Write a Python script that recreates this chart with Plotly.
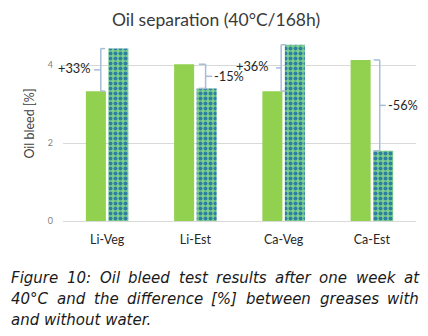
import plotly.graph_objects as go

# Oil bleed after 168 h at 40 °C, without and with water
categories = ["Li-Veg", "Li-Est", "Ca-Veg", "Ca-Est"]
bleed_dry = [3.33, 4.02, 3.33, 4.13]
bleed_water = [4.42, 3.40, 4.52, 1.80]
y_ticks = [0, 2, 4]

title_text = "Oil separation (40°C/168h)"
y_title = "Oil bleed [%]"
caption_lines = [
    ["Figure", "10:", "Oil", "bleed", "test", "results", "after", "one", "week", "at"],
    ["40°C", "and", "the", "difference", "[%]", "between", "greases", "with"],
    ["and without water."],
]

# layout helpers ---------------------------------------------------------
W, H = 428, 336
ML, MR, MT, MB = 63, 12, 26, 115
PW, PH = W - ML - MR, H - MT - MB


def px_x(px):
    return (px - ML) / PW


def px_y(py):
    return (H - MB - py) / PH


GREEN = "#92D050"
CHECK_FG = "#2E80A2"
CHECK_BG = "#7DD08C"
BRACKET = "#A7BCD6"
FONT = "Lato"

fig = go.Figure()
fig.add_trace(go.Bar(
    x=categories, y=bleed_dry, marker=dict(color=GREEN, line=dict(width=0)),
    name="without water", hoverinfo="skip",
))
fig.add_trace(go.Bar(
    x=categories, y=bleed_water,
    marker=dict(color=CHECK_BG, line=dict(width=0),
                pattern=dict(shape=".", fgcolor=CHECK_FG, bgcolor=CHECK_BG,
                             size=5, solidity=0.5, fillmode="replace")),
    name="with water", hoverinfo="skip",
))

# bracket geometry per group: (vertical x, end x, tick x, label x, label side, label shift px)
bracket_geom = [
    (-0.072, -0.023, -0.148, -0.175, "right", 2),
    (0.116, 0.040, 0.190, 0.195, "left", 0),
    (-0.028, 0.017, -0.085, -0.150, "right", 2),
    (0.089, 0.020, 0.157, 0.170, "left", 0),
]

shapes = []
annotations = []
line_style = dict(color=BRACKET, width=1.5)
for i, (dry, wet) in enumerate(zip(bleed_dry, bleed_water)):
    xv, xe, xt, xl, side, shift = bracket_geom[i]
    lo, hi = min(dry, wet), max(dry, wet)
    mid = (lo + hi) / 2
    for seg in [(xv, lo, xv, hi), (xv, hi, xe, hi), (xv, lo, xe, lo), (xv, mid, xt, mid)]:
        shapes.append(dict(type="line", xref="x", yref="y",
                           x0=i + seg[0], y0=seg[1], x1=i + seg[2], y1=seg[3],
                           line=line_style))
    change = round((wet / dry - 1) * 100)
    annotations.append(dict(
        x=i + xl, y=mid, xref="x", yref="y", text=f"{change:+d}%",
        showarrow=False, xanchor=side, yanchor="middle", yshift=shift, borderpad=0,
        font=dict(family=FONT, size=12.8, color="#262626"),
    ))

# justified caption: word start positions in pixels for each line
caption_word_px = [
    [10, 65.8, 98.5, 127.2, 177.5, 214.9, 274.1, 318.4, 354.9, 402.9],
    [10, 55.7, 92.6, 125.9, 210.4, 245.0, 318.5, 386.2],
    [10],
]
caption_line_py = [278, 299, 320]
for words, xs, py in zip(caption_lines, caption_word_px, caption_line_py):
    for w, x in zip(words, xs):
        annotations.append(dict(
            x=px_x(x), y=px_y(py), xref="paper", yref="paper", text=f"<i>{w}</i>",
            showarrow=False, xanchor="left", yanchor="middle", borderpad=0,
            font=dict(family="DejaVu Sans", size=15, color="#1a1a1a"),
        ))

fig.update_layout(
    width=W, height=H,
    margin=dict(l=ML, r=MR, t=MT, b=MB, pad=0),
    paper_bgcolor="white", plot_bgcolor="white",
    barmode="group", bargap=0.49, bargroupgap=0.11,
    showlegend=False,
    title=dict(text=title_text, x=216 / W, xref="container", xanchor="center",
               y=1 - 20 / H, yref="container", yanchor="middle",
               font=dict(family=FONT, size=17.5, color="#3A3A3A")),
    xaxis=dict(range=[-0.5, 3.5], showgrid=False, showline=False, ticks="",
               ticklabelstandoff=9, automargin=False,
               tickfont=dict(family=FONT, size=12.5, color="#262626")),
    yaxis=dict(range=[0, 5], tickvals=y_ticks, showgrid=True, gridcolor="#D9D9D9",
               gridwidth=1, zeroline=True, zerolinecolor="#D9D9D9", zerolinewidth=1,
               showline=False, ticks="", ticklabelstandoff=9, automargin=False,
               tickfont=dict(family=FONT, size=9, color="#7F7F7F"),
               title=dict(text=y_title, standoff=10,
                          font=dict(family=FONT, size=12.5, color="#404040"))),
    shapes=shapes, annotations=annotations,
)

fig.write_html("out.html")
